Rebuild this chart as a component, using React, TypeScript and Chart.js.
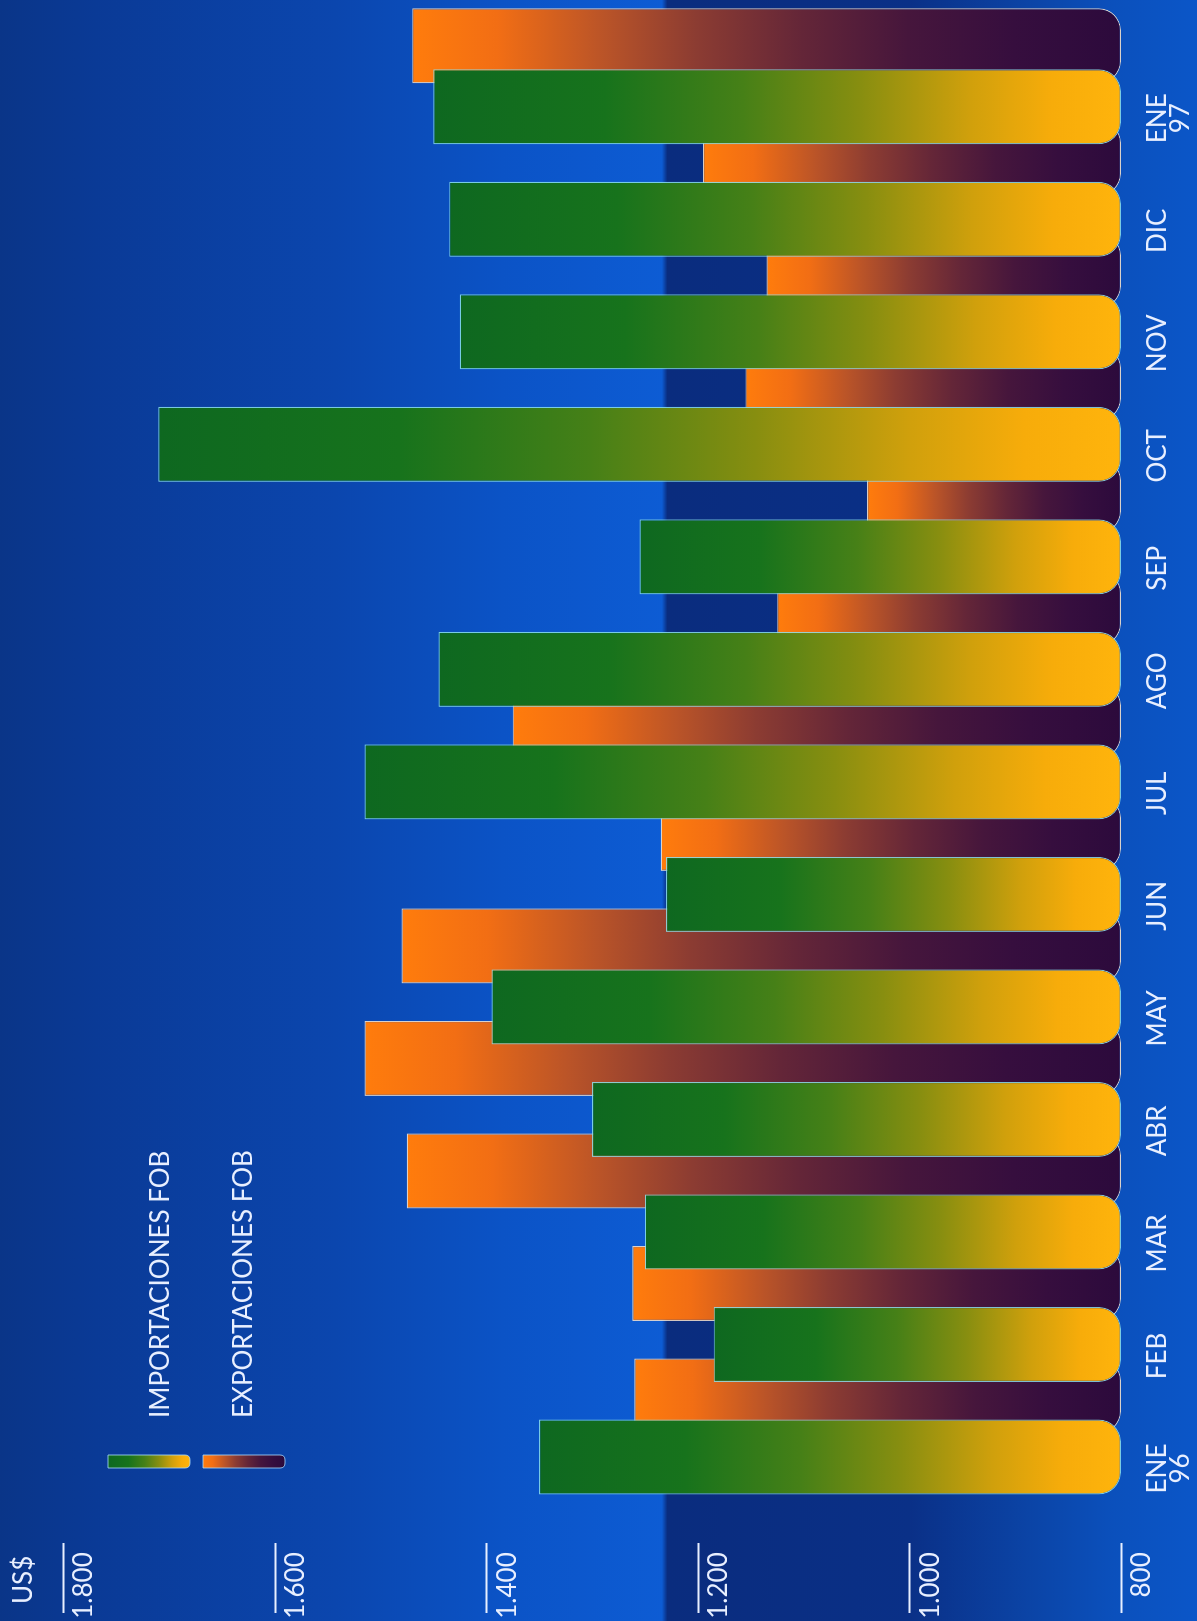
import React, { useEffect, useRef } from 'react';
import { Chart, registerables } from 'chart.js';

Chart.register(...registerables);

// ---- data ----
const months: string[][] = [
  ['ENE', '96'], ['FEB'], ['MAR'], ['ABR'], ['MAY'], ['JUN'], ['JUL'],
  ['AGO'], ['SEP'], ['OCT'], ['NOV'], ['DIC'], ['ENE', '97'],
];
const importaciones = [1350, 1185, 1250, 1300, 1395, 1230, 1515, 1445, 1255, 1710, 1425, 1435, 1450];
const exportaciones = [1260, 1262, 1475, 1515, 1480, 1235, 1375, 1125, 1040, 1155, 1135, 1195, 1470];
const valueTicks = [800, 1000, 1200, 1400, 1600, 1800];
const seriesNames = ['IMPORTACIONES FOB', 'EXPORTACIONES FOB'];
const unitLabel = 'US$';

// ---- style ----
const W = 1621; // unrotated canvas width (page height)
const H = 1197; // unrotated canvas height (page width)
const FONT = 'Lato, "Open Sans", sans-serif';
const TEXT = '#e8efff';

const greenStops: [number, string][] = [
  [0, '#0e6820'], [0.25, '#17731c'], [0.45, '#468017'], [0.62, '#878e10'],
  [0.78, '#d0a00c'], [0.9, '#f7ac0a'], [1, '#ffb40c'],
];
const orangeStops: [number, string][] = [
  [0, '#ff7c0c'], [0.12, '#f26e14'], [0.27, '#ba5428'], [0.4, '#8c3c32'],
  [0.55, '#642638'], [0.7, '#46163c'], [0.85, '#360e3e'], [1, '#2c0a3c'],
];
const bgStops: [number, string][] = [
  [0, '#0a3588'], [0.08, '#0a3a96'], [0.28, '#0b46ae'], [0.42, '#0b53c6'],
  [0.553, '#0d5cd4'], [0.5575, '#0a2c7e'], [0.76, '#0a3087'], [0.86, '#0b44a6'],
  [0.93, '#0b50bc'], [1, '#0b56c8'],
];

function fmt(v: number): string {
  if (v >= 1000) return Math.floor(v / 1000) + '.' + String(v % 1000).padStart(3, '0');
  return String(v);
}

function barGradient(stops: [number, string][]) {
  return (ctx: any) => {
    const chart = ctx.chart;
    const yScale = chart.scales && chart.scales.y;
    if (ctx.type !== 'data' || !yScale || !chart.chartArea) return stops[0][1];
    const top = yScale.getPixelForValue(ctx.raw);
    const base = yScale.getPixelForValue(yScale.min);
    const g = chart.ctx.createLinearGradient(0, top, 0, base);
    stops.forEach(([o, c]) => g.addColorStop(o, c));
    return g;
  };
}

const backgroundPlugin = {
  id: 'bg',
  beforeDraw(chart: any) {
    const c = chart.ctx;
    const g = c.createLinearGradient(0, 0, 0, chart.height);
    bgStops.forEach(([o, col]) => g.addColorStop(o, col));
    c.save();
    c.fillStyle = g;
    c.fillRect(0, 0, chart.width, chart.height);
    c.restore();
  },
};

function swatch(c: CanvasRenderingContext2D, x: number, y: number, w: number, h: number, stops: [number, string][]) {
  const r = 5;
  const g = c.createLinearGradient(0, y, 0, y + h);
  stops.forEach(([o, col]) => g.addColorStop(o, col));
  c.beginPath();
  c.moveTo(x, y);
  c.lineTo(x + w, y);
  c.lineTo(x + w, y + h - r);
  c.quadraticCurveTo(x + w, y + h, x + w - r, y + h);
  c.lineTo(x + r, y + h);
  c.quadraticCurveTo(x, y + h, x, y + h - r);
  c.closePath();
  c.fillStyle = g;
  c.fill();
  c.lineWidth = 1;
  c.strokeStyle = 'rgba(170,220,255,0.8)';
  c.stroke();
}

const overlayPlugin = {
  id: 'overlay',
  afterDraw(chart: any) {
    const c: CanvasRenderingContext2D = chart.ctx;
    const yScale = chart.scales.y;
    c.save();
    // overlines of value ticks
    c.strokeStyle = TEXT;
    c.lineWidth = 2.2;
    yScale.ticks.forEach((t: any) => {
      const py = Math.round(yScale.getPixelForValue(t.value)) + 0.5;
      c.beginPath();
      c.moveTo(8, py);
      c.lineTo(78, py);
      c.stroke();
    });
    // unit label
    c.fillStyle = TEXT;
    c.font = `26px ${FONT}`;
    c.textAlign = 'left';
    c.textBaseline = 'alphabetic';
    c.fillText(unitLabel, 17, 32);
    // legend
    swatch(c, 153, 108, 13, 82, greenStops);
    swatch(c, 153, 203, 13, 82, orangeStops);
    c.fillStyle = TEXT;
    c.fillText(seriesNames[0], 203, 169);
    c.fillText(seriesNames[1], 203, 252);
    c.restore();
  },
};

export default function App() {
  const ref = useRef<HTMLCanvasElement>(null);
  useEffect(() => {
    document.body.style.margin = '0';
    document.body.style.overflow = 'hidden';
    const barRadius = { topLeft: 0, topRight: 0, bottomLeft: 22, bottomRight: 22 };
    const baseValue = valueTicks[0];
    const chart = new Chart(ref.current as HTMLCanvasElement, {
      type: 'bar',
      data: {
        labels: months,
        datasets: [
          {
            label: seriesNames[0],
            data: importaciones,
            base: baseValue,
            clip: false,
            backgroundColor: barGradient(greenStops),
            borderColor: 'rgba(140,225,235,0.85)',
            borderWidth: 1.2,
            borderSkipped: false,
            borderRadius: barRadius,
            categoryPercentage: 1.0844,
            barPercentage: 1.2295,
          },
          {
            label: seriesNames[1],
            data: exportaciones,
            base: baseValue,
            clip: false,
            backgroundColor: barGradient(orangeStops),
            borderColor: 'rgba(255,232,205,0.85)',
            borderWidth: 1.2,
            borderSkipped: false,
            borderRadius: barRadius,
            categoryPercentage: 1.0844,
            barPercentage: 1.2295,
          },
        ],
      } as any,
      options: {
        responsive: false,
        animation: false,
        devicePixelRatio: 1,
        layout: { padding: { left: 0, right: 20, top: 63, bottom: 0 } },
        plugins: {
          legend: { display: false },
          tooltip: { enabled: false },
          title: { display: false },
        },
        scales: {
          x: {
            type: 'category',
            offset: true,
            grid: { display: false },
            border: { display: false },
            ticks: {
              color: TEXT,
              font: { family: FONT, size: 26, lineHeight: 0.9 },
              padding: 17,
              labelOffset: -42,
              maxRotation: 0,
              minRotation: 0,
              autoSkip: false,
            },
            afterFit: (s: any) => { s.height = 76; s.paddingLeft = 0; s.paddingRight = 0; },
          },
          y: {
            type: 'linear',
            min: valueTicks[0],
            max: valueTicks[valueTicks.length - 1],
            grid: { display: false },
            border: { display: false },
            afterBuildTicks: (s: any) => { s.ticks = valueTicks.map((v) => ({ value: v })); },
            ticks: {
              color: TEXT,
              font: { family: FONT, size: 26 },
              padding: 61.5,
              labelOffset: 21,
              callback: (v: any) => fmt(Number(v)),
            },
            afterFit: (s: any) => { s.width = 138.25; s.paddingTop = 0; s.paddingBottom = 0; },
          },
        },
      } as any,
      plugins: [backgroundPlugin, overlayPlugin],
    });
    return () => chart.destroy();
  }, []);

  return (
    <div
      style={{
        position: 'fixed',
        left: 0,
        top: 0,
        width: W,
        height: H,
        transformOrigin: '0 0',
        transform: `translateY(${W}px) rotate(-90deg)`,
      }}
    >
      <canvas ref={ref} width={W} height={H} style={{ display: 'block', width: W, height: H }} />
    </div>
  );
}
